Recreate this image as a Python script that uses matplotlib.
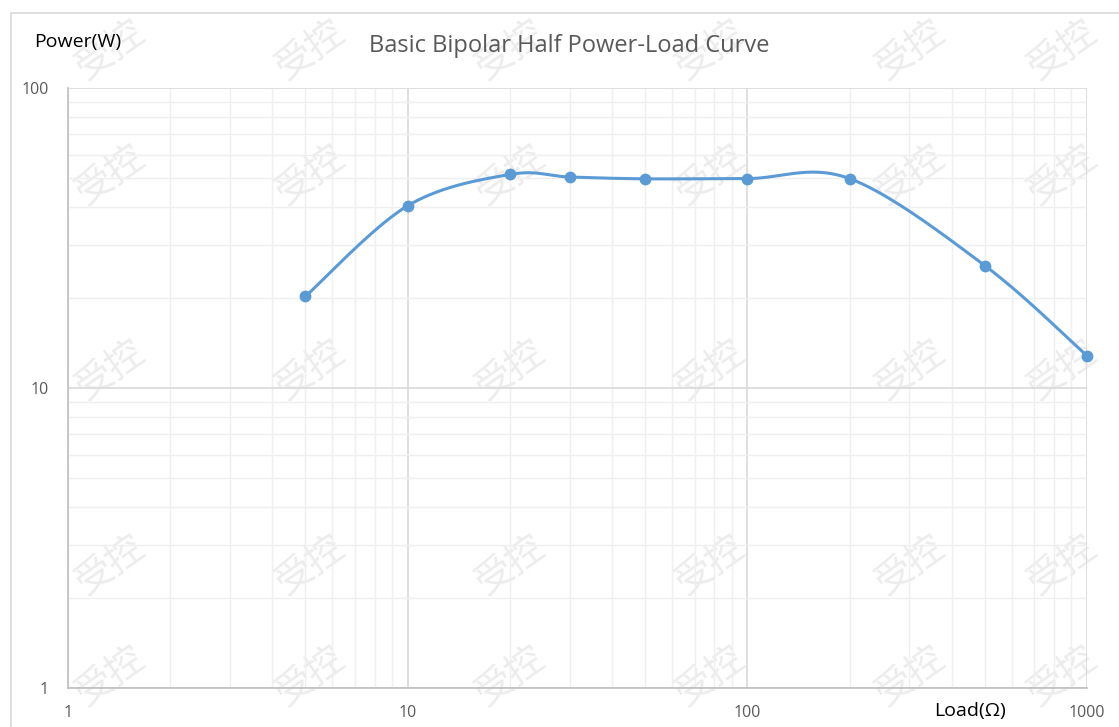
import numpy as np
import matplotlib
matplotlib.use("Agg")
import matplotlib.pyplot as plt
from matplotlib.ticker import LogLocator, NullFormatter, FixedLocator, FixedFormatter
from matplotlib.patches import Rectangle

# Data
load = [5, 10, 20, 30, 50, 100, 200, 500, 1000]
power = [20.2, 40.5, 51.5, 50.5, 49.8, 49.9, 49.9, 25.6, 12.8]
x_ticks = [1, 10, 100, 1000]
y_ticks = [1, 10, 100]
title = "Basic Bipolar Half Power-Load Curve"
ylab = "Power(W)"
xlab = "Load(Ω)"
watermark = "受控"

W, H = 1119, 727
fig = plt.figure(figsize=(W / 100, H / 100), dpi=100)
fig.patch.set_facecolor("white")

# chart border
fig.patches.append(Rectangle((11 / W, -0.05), 1.2, (727 - 13) / H + 0.05, transform=fig.transFigure,
                             fill=False, edgecolor="#d9d9d9", linewidth=1.2, zorder=0))

# watermark (behind the plot)
for yy in [50, 175, 370, 565, 676]:
    for xx in [110, 310, 510, 710, 910, 1062]:
        fig.text(xx / W, 1 - yy / H, watermark, ha="center", va="center", fontsize=27, rotation=35,
                 color="#ececec", family=["Noto Sans CJK SC", "DejaVu Sans"], fontweight="light", zorder=-5)

ax = fig.add_axes([68 / W, (H - 688) / H, (1087 - 68) / W, (688 - 88) / H])
ax.patch.set_alpha(0)
ax.set_xscale("log")
ax.set_yscale("log")
ax.set_xlim(1, 1000)
ax.set_ylim(1, 100)

# Excel-like smoothing: Catmull-Rom in log space
lx = np.log10(load)
ly = np.log10(power)
P = np.column_stack([lx, ly])
curve = []
n = len(P)
for i in range(n - 1):
    p0 = P[i - 1] if i > 0 else P[i]
    p1 = P[i]
    p2 = P[i + 1]
    p3 = P[i + 2] if i + 2 < n else P[i + 1]
    c1 = p1 + (p2 - p0) / 6
    c2 = p2 - (p3 - p1) / 6
    t = np.linspace(0, 1, 40)[:, None]
    seg = (1 - t) ** 3 * p1 + 3 * (1 - t) ** 2 * t * c1 + 3 * (1 - t) * t ** 2 * c2 + t ** 3 * p2
    curve.append(seg)
curve = np.vstack(curve)
ax.plot(10 ** curve[:, 0], 10 ** curve[:, 1], color="#5B9BD5", lw=2.2, zorder=3, solid_capstyle="round",
        clip_on=False)
ax.plot(load, power, "o", color="#5B9BD5", ms=7.5, zorder=4, clip_on=False)

# grid
ax.xaxis.set_major_locator(FixedLocator(x_ticks))
ax.yaxis.set_major_locator(FixedLocator(y_ticks))
ax.xaxis.set_minor_locator(LogLocator(base=10, subs=np.arange(2, 10)))
ax.yaxis.set_minor_locator(LogLocator(base=10, subs=np.arange(2, 10)))
ax.xaxis.set_minor_formatter(NullFormatter())
ax.yaxis.set_minor_formatter(NullFormatter())
ax.xaxis.set_major_formatter(FixedFormatter([str(v) for v in x_ticks]))
ax.yaxis.set_major_formatter(FixedFormatter([str(v) for v in y_ticks]))
ax.grid(which="major", color="#d9d9d9", lw=1.2)
ax.grid(which="minor", color="#efefef", lw=1.0)
ax.set_axisbelow(True)
ax.tick_params(which="both", length=0, labelsize=11.5, labelcolor="#595959", pad=12)
ax.tick_params(axis="y", pad=14)
for s in ["top", "right"]:
    ax.spines[s].set_visible(False)
for s in ["left", "bottom"]:
    ax.spines[s].set_color("#bfbfbf")
    ax.spines[s].set_linewidth(1.2)
for lbl in ax.get_xticklabels() + ax.get_yticklabels():
    lbl.set_fontfamily("Open Sans")

fig.text(569 / W, 1 - 46 / H, title, ha="center", va="center", fontsize=17, color="#595959",
         family="Open Sans")
fig.text(34 / W, 1 - 42 / H, ylab, ha="left", va="center", fontsize=14, color="black", family="Open Sans")
fig.text(970 / W, 1 - 711 / H, xlab, ha="center", va="center", fontsize=14, color="black", family="Open Sans")

fig.savefig("out.png", dpi=100)
